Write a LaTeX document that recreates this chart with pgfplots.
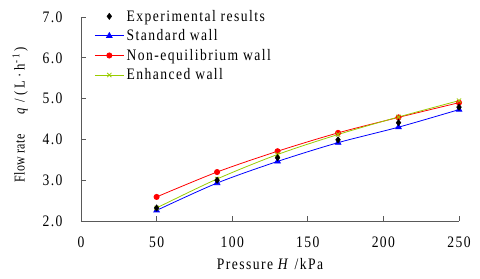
\documentclass[border=0pt]{standalone}
\usepackage{fontspec}
\setmainfont{Liberation Serif}[FakeStretch=0.85, LetterSpace=9]
\newfontfamily\ylabfont{Liberation Serif}[FakeStretch=0.8, LetterSpace=2]
\newfontfamily\unitfont{Liberation Serif}[FakeStretch=0.85, LetterSpace=20]
\usepackage{pgfplots}
\pgfplotsset{compat=1.18}
\definecolor{myblue}{RGB}{0,0,255}
\definecolor{myred}{RGB}{255,0,0}
\definecolor{mygreen}{RGB}{153,204,0}
\newcommand{\chartfont}{\fontsize{16bp}{19bp}\selectfont}
\pgfplotsset{
 linelegend/.style={legend image code/.code={\draw[##1] (0bp,0bp) -- (29bp,0bp); \draw[##1, only marks] plot coordinates {(14.5bp,0bp)};}},
 marklegend/.style={legend image code/.code={\draw[##1] plot coordinates {(14.5bp,0bp)};}},
}
\begin{document}
\begin{tikzpicture}
\begin{axis}[
 scale only axis, width=378bp, height=204bp,
 xmin=0, xmax=250, ymin=2, ymax=7,
 xtick={0,50,...,250}, ytick={2,3,...,7},
 axis x line*=bottom, axis y line*=left,
 axis line style={black!65, line width=0.8pt, -},
 tick style={black!65, line width=0.8pt},
 tick align=inside, major tick length=5bp,
 y tick label style={/pgf/number format/fixed, /pgf/number format/fixed zerofill, /pgf/number format/precision=1, xshift=-15bp},
 /pgf/number format/assume math mode=true,
 ticklabel style={font=\chartfont},
 xticklabel style={yshift=-12bp},
 xlabel={Pressure \textit{H} /kPa},
 ylabel={{\ylabfont Flow rate}\hspace{20bp}{\unitfont\textit{q}\hspace{3bp}/(L·h\textsuperscript{-1}\hspace{2bp})}},
 xlabel style={font=\chartfont, yshift=-4bp},
 ylabel style={font=\fontsize{15bp}{17bp}\selectfont, yshift=8bp, xshift=4bp},
 legend style={draw=none, fill=none, at={(rel axis cs:0.035,1.045)}, anchor=north west, font=\chartfont, row sep=3bp, inner sep=0pt, nodes={inner xsep=2.5bp}},
 legend cell align=left,
 linelegend,
]
\addlegendimage{only marks, mark=diamond*, black, mark size=3.2bp, marklegend}
\addlegendentry{Experimental results}
\addplot[myblue, line width=0.8pt, smooth, mark=triangle*, mark size=3.2bp] coordinates {(50,2.26) (90,2.93) (130,3.46) (170,3.92) (210,4.30) (250,4.73)};
\addlegendentry{Standard wall}
\addplot[myred, line width=0.8pt, smooth, mark=*, mark size=2.6bp] coordinates {(50,2.59) (90,3.20) (130,3.71) (170,4.16) (210,4.54) (250,4.90)};
\addlegendentry{Non-equilibrium wall}
\addplot[mygreen, line width=0.8pt, smooth, mark=x, mark size=3bp] coordinates {(50,2.32) (90,3.03) (130,3.63) (170,4.12) (210,4.55) (250,4.95)};
\addlegendentry{Enhanced wall}
\addplot[only marks, mark=diamond*, black, mark size=3.2bp, forget plot] coordinates {(50,2.32) (90,3.00) (130,3.55) (170,3.99) (210,4.41) (250,4.79)};
\coordinate (bl) at (rel axis cs:0,0);
\end{axis}
\pgfresetboundingbox
\path (bl) ++(-81bp,-58bp) rectangle ++(480bp,279bp);
\end{tikzpicture}
\end{document}
